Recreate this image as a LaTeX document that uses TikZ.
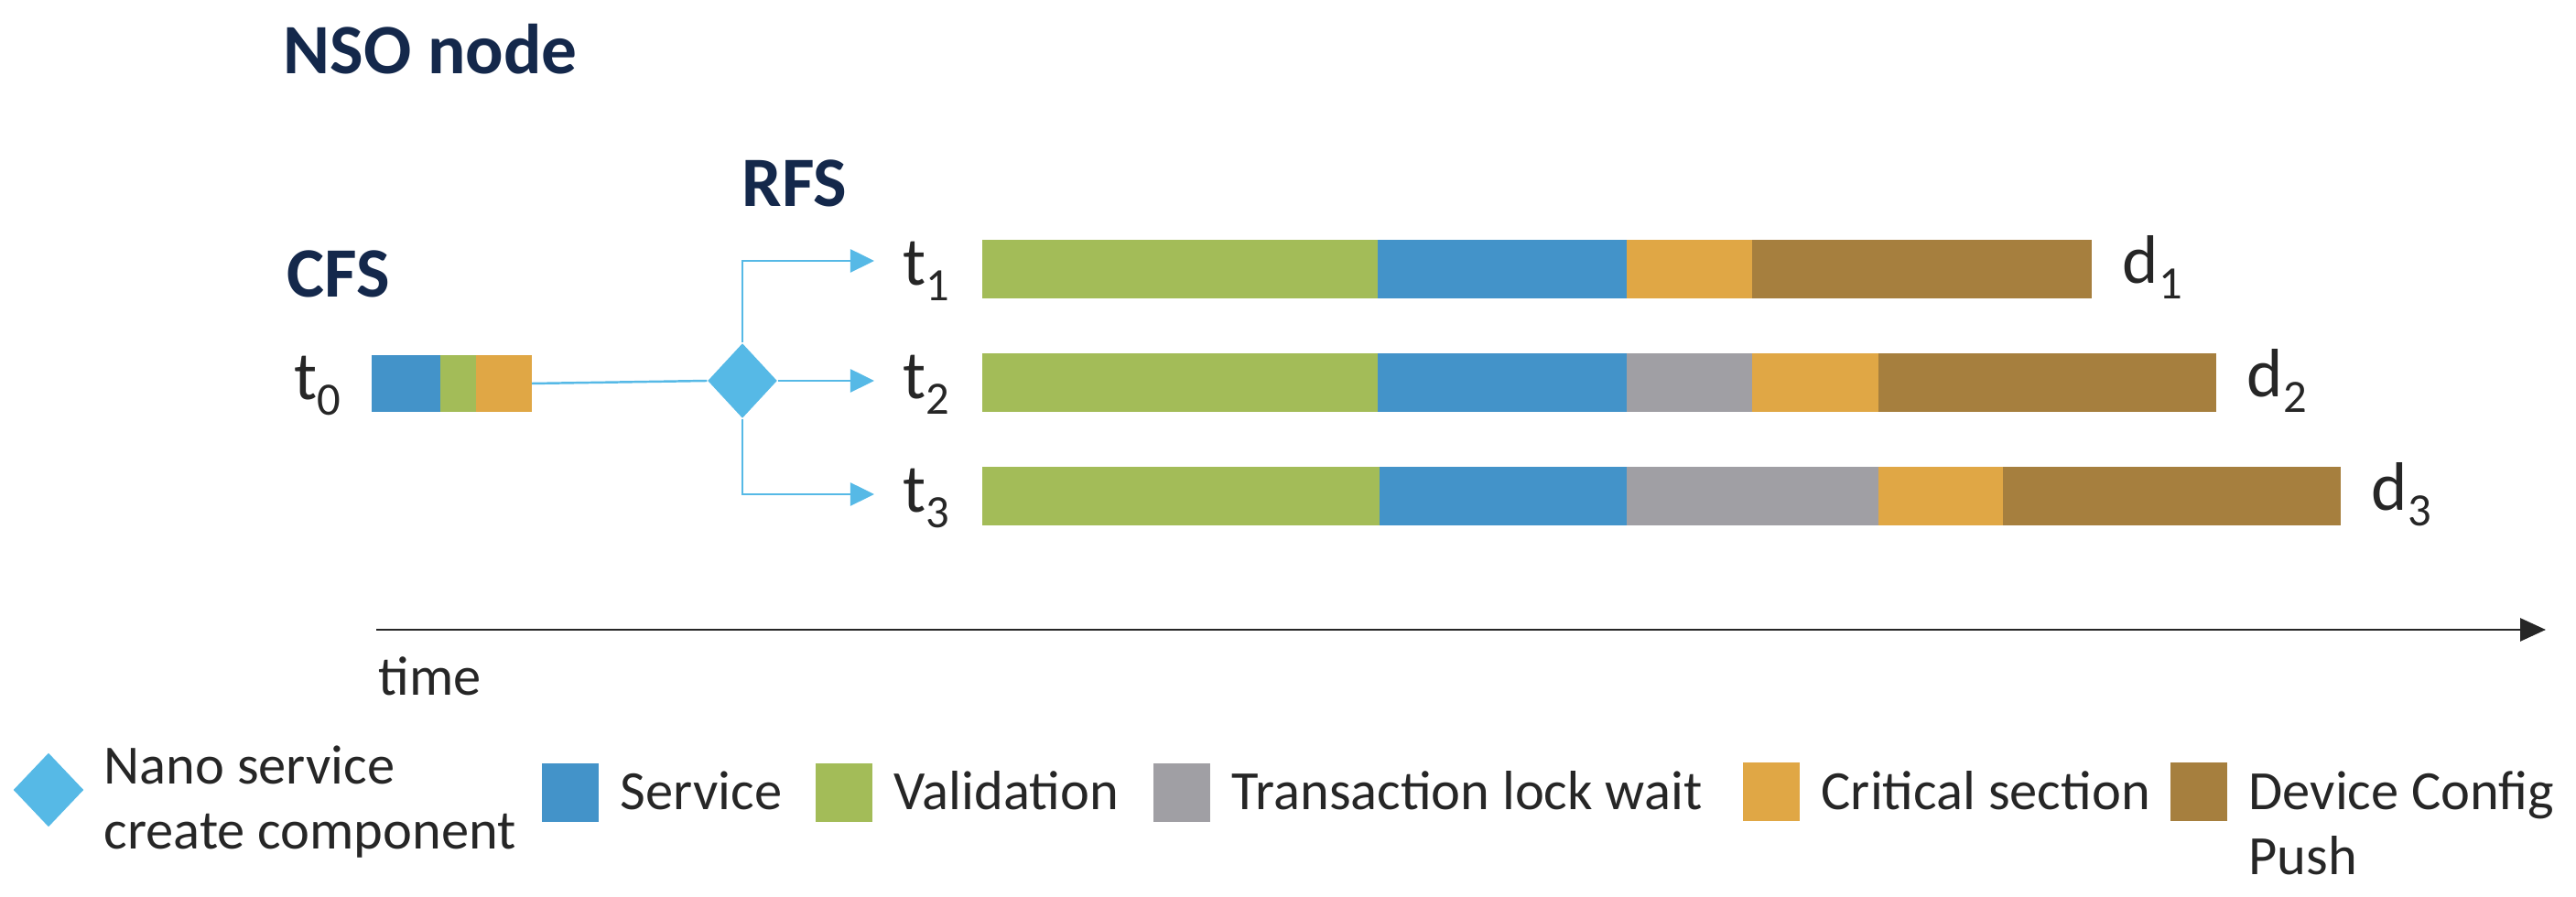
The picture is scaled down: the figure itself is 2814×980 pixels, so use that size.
\documentclass[tikz,border=0pt]{standalone}
\usepackage{fontspec}
\setmainfont{Carlito}
\usetikzlibrary{arrows.meta,positioning,calc,shapes.geometric}

\definecolor{svcblue}{HTML}{4393C9}
\definecolor{valgreen}{HTML}{A3BC58}
\definecolor{lockgray}{HTML}{A09FA4}
\definecolor{critorange}{HTML}{E0A745}
\definecolor{pushbrown}{HTML}{A67F3E}
\definecolor{nanoblue}{HTML}{56B9E6}
\definecolor{titlenavy}{HTML}{14284B}
\definecolor{ink}{HTML}{262626}

\newcommand{\tsub}[2]{#1\raisebox{-0.22em}{\fontsize{14.4}{14.4}\selectfont #2}}

\begin{document}
\begin{tikzpicture}[
  x=0.01cm, y=-0.01cm,
  title/.style={font=\fontsize{22}{25}\selectfont\bfseries, text=titlenavy,
                anchor=base west, inner sep=0},
  tlbl/.style={font=\fontsize{21.3}{24}\selectfont, text=ink, inner sep=0},
  legtext/.style={font=\fontsize{17.2}{20.2}\selectfont, text=ink,
                  anchor=base west, inner sep=0, align=left},
  legbox/.style={minimum width=0.62cm, minimum height=0.64cm, inner sep=0},
  nano/.style={diamond, fill=nanoblue, inner sep=0,
               minimum width=0.76cm, minimum height=0.82cm},
  flow/.style={draw=nanoblue, line width=0.7pt},
  flowarr/.style={flow, -{Triangle[length=2.6mm, width=2.5mm]}},
  axis/.style={draw=ink, line width=0.8pt, -{Triangle[length=2.8mm, width=2.5mm]}}
]
\useasboundingbox (0,0) rectangle (2814,980);

% titles
\node[title] (nso) at (309,81) {NSO node};
\node[title] (cfs) at (313,325) {CFS};
\node[title] (rfs) at (810,226) {RFS};

% CFS transaction
\foreach \xa/\xb/\col in {406/481/svcblue, 481/520/valgreen, 520/581/critorange}
  \fill[\col] (\xa,388) rectangle (\xb,450);
\coordinate (cfsw) at (406,419);
\coordinate (cfse) at (581,419);
\node[tlbl, anchor=base east] (t0) at ($(cfsw)+(-33,18)$) {\tsub{t}{0}};

% nano service create
\node[nano] (rfsnano) at (811,416) {};
\coordinate (a1) at (955,285);
\coordinate (a2) at (955,416);
\coordinate (a3) at (955,540);
\draw[flow] (cfse) -- (rfsnano.west);
\draw[flowarr] (rfsnano.north) |- (a1);
\draw[flowarr] (rfsnano.east) -- (a2);
\draw[flowarr] (rfsnano.south) |- (a3);

% RFS transactions
\foreach \xa/\xb/\col in {1073/1505/valgreen, 1505/1777/svcblue,
                          1777/1914/critorange, 1914/2285/pushbrown}
  \fill[\col] (\xa,262) rectangle (\xb,326);
\foreach \xa/\xb/\col in {1073/1505/valgreen, 1505/1777/svcblue, 1777/1914/lockgray,
                          1914/2052/critorange, 2052/2421/pushbrown}
  \fill[\col] (\xa,386) rectangle (\xb,450);
\foreach \xa/\xb/\col in {1073/1507/valgreen, 1507/1777/svcblue, 1777/2052/lockgray,
                          2052/2188/critorange, 2188/2557/pushbrown}
  \fill[\col] (\xa,510) rectangle (\xb,574);
\coordinate (b1w) at (1073,294); \coordinate (b1e) at (2285,294);
\coordinate (b2w) at (1073,418); \coordinate (b2e) at (2421,418);
\coordinate (b3w) at (1073,542); \coordinate (b3e) at (2557,542);
\foreach \i in {1,2,3} {
  \node[tlbl, anchor=base east] (t\i) at ($(b\i w)+(-35,18)$) {\tsub{t}{\i}};
  \node[tlbl, anchor=base west] (d\i) at ($(b\i e)+(33,16)$) {\tsub{d}{\i}};
}

% time axis
\coordinate (tstart) at (411,688);
\coordinate (tend) at (2781,688);
\draw[axis] (tstart) -- (tend);
\node[legtext] (time) at (413,760) {time};

% legend (two-line texts sit on their last line)
\node[nano, minimum width=0.77cm, minimum height=0.81cm] (legnano) at (53,863) {};
\node[legtext] (legnanotxt) at (113,928) {Nano service\\create component};
\node[legbox, fill=svcblue] (legsvc) at (623,866) {};
\node[legtext] (legsvctxt) at (677,885) {Service};
\node[legbox, fill=valgreen] (legval) at (922,866) {};
\node[legtext] (legvaltxt) at (976,885) {Validation};
\node[legbox, fill=lockgray] (leglock) at (1291,866) {};
\node[legtext] (leglocktxt) at (1345,885) {Transaction lock wait};
\node[legbox, fill=critorange] (legcrit) at (1935,865) {};
\node[legtext] (legcrittxt) at (1989,885) {Critical section};
\node[legbox, fill=pushbrown] (legpush) at (2402,865) {};
\node[legtext] (legpushtxt) at (2456,956) {Device Config\\Push};
\end{tikzpicture}
\end{document}
